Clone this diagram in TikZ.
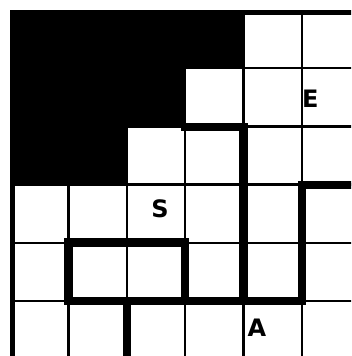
\documentclass[tikz,border=0pt]{standalone}
\usepackage{fontspec}
\newfontfamily\lab{DejaVu Sans}
\begin{document}
\begin{tikzpicture}[x=1pt,y=-1pt,
  gridline/.style={line width=2.4pt,black},
  frameline/.style={line width=5pt,black},
  wallline/.style={line width=8.5pt,black,line cap=rect,line join=miter},
  letter/.style={inner sep=0pt,font=\lab\bfseries\fontsize{24}{24}\selectfont}]
\useasboundingbox (0,0) rectangle (351,356);
\clip (0,0) rectangle (351,356);
% black region
\fill[black] (10,10) -- (243.6,10) -- (243.6,68.4) -- (185.2,68.4) -- (185.2,126.8)
  -- (126.8,126.8) -- (126.8,185.2) -- (10,185.2) -- cycle;
% grid
\foreach \i in {1,...,6}{
  \draw[gridline] ({10+58.4*\i},10) -- ({10+58.4*\i},370);
  \draw[gridline] (10,{10+58.2*\i}) -- (370,{10+58.2*\i});
}
% frame
\draw[frameline] (12.5,370) -- (12.5,12.5) -- (370,12.5);
% walls
\draw[wallline] (185.2,126.8) -- (243.6,126.8) -- (243.6,301);
\draw[wallline] (302,185) -- (360,185);
\draw[wallline] (302,185) -- (302,301);
\draw[wallline] (68.4,242.5) -- (185.2,242.5) -- (185.2,301);
\draw[wallline] (68.4,242.5) -- (68.4,301);
\draw[wallline] (68.4,301) -- (302,301);
\draw[wallline] (126.8,301) -- (126.8,370);
% labels
\node[letter,anchor=west] (E) at (302,99) {E};
\node[letter] (S) at (160,209) {S};
\node[letter] (A) at (257,328) {A};
\end{tikzpicture}
\end{document}
